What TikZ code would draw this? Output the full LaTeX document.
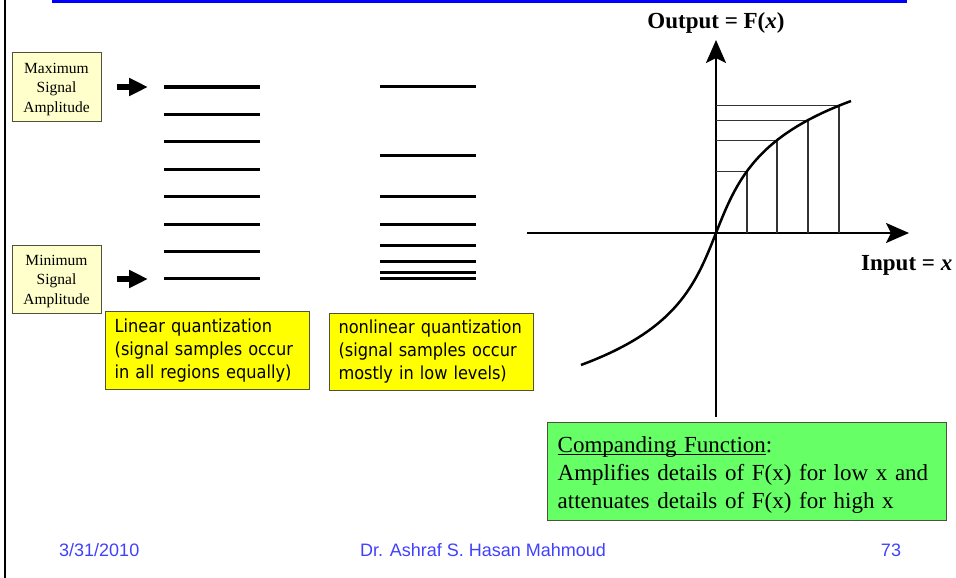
\documentclass[tikz,border=0pt]{standalone}
\usepackage{fontspec}
\setmainfont{Liberation Serif}
\newfontfamily\tah[FakeStretch=0.9]{DejaVu Sans}
\newfontfamily\arial{Liberation Sans}
\usetikzlibrary{arrows.meta}
\definecolor{lightyel}{RGB}{255,255,204}
\definecolor{yel}{RGB}{255,255,0}
\definecolor{grn}{RGB}{102,255,102}
\definecolor{footblue}{RGB}{64,64,255}
\definecolor{boxline}{RGB}{80,80,60}
\newcommand\myul[1]{\setbox0\hbox{#1}\rlap{\rule[-2.4pt]{\wd0}{1.3pt}}\box0}
\begin{document}
\begin{tikzpicture}[x=1pt,y=-1pt,
  ampbox/.style={draw=boxline,line width=1pt,fill=lightyel,minimum width=89pt,minimum height=68pt,inner sep=0pt},
  amptext/.style={inner sep=0pt,align=center,font=\fontsize{15.5}{19.5}\selectfont},
  bigarrow/.style={line width=6pt,-{Triangle[length=19pt,width=17pt]}},
  level/.style={line width=3.5pt},
  quantbox/.style={draw=boxline,line width=1pt,fill=yel,text width=186pt,inner xsep=9pt,minimum height=77.5pt,align=left,font=\tah\fontsize{18}{23}\selectfont},
  axis/.style={line width=2.5pt,-{Stealth[length=23pt,width=20pt,inset=5pt]}},
  curve/.style={line width=2.5pt},
  gridl/.style={line width=1.2pt,black!80},
  foot/.style={font=\arial\fontsize{18}{20}\selectfont,text=footblue,inner sep=0pt}]
\useasboundingbox (0,0) rectangle (956,578);
\fill[blue] (52,0) rectangle (907,3);
\draw[line width=2pt] (5,0) -- (5,578);
% amplitude boxes
\node[ampbox] (maxbox) at (56.5,87) {};
\node[amptext] (maxtext) at ([yshift=-2.5pt]maxbox.center) {Maximum\\Signal\\Amplitude};
\node[ampbox] (minbox) at (56.5,279) {};
\node[amptext] (mintext) at ([yshift=-2.5pt]minbox.center) {Minimum\\Signal\\Amplitude};
\coordinate (maxtip) at (148,87);
\coordinate (mintip) at (148,279);
\draw[bigarrow] ([xshift=15pt]maxbox.east) -- (maxtip);
\draw[bigarrow] ([xshift=15pt]minbox.east) -- (mintip);
% linear levels
\foreach \yy in {87,114.7,141.7,169.7,196.7,224.7,251.7,278.7}
  \draw[level] (164,\yy) -- (260,\yy);
% nonlinear levels
\foreach \yy in {86.7,155.7,196.7,224.7,245.7,261.7,272.7,278.7}
  \draw[level] (380,\yy) -- (476,\yy);
% quantization boxes
\node[quantbox] (linbox) at (207.7,350.5) {Linear quantization\\(signal samples occur\\in all regions equally)};
\node[quantbox] (nlbox) at (431.5,352) {nonlinear quantization\\(signal samples occur\\mostly in low levels)};
% axes
\coordinate (O) at (716,233);
\coordinate (xl) at (527,233);
\coordinate (xr) at (909,233);
\coordinate (yb) at (716,417);
\coordinate (yt) at (716,40);
\draw[axis] (xl) -- (xr);
\draw[axis] (yb) -- (yt);
\node[font=\bfseries\fontsize{23}{26}\selectfont,inner sep=0pt] (outlbl) at (716,23) {Output = F(\textit{x})};
\node[font=\bfseries\fontsize{23}{26}\selectfont,inner sep=0pt,anchor=west] (inlbl) at (861,265) {Input = \textit{x}};
% grid
\foreach \t in {31,61,92,123} {
  \pgfmathsetmacro\fy{233-50.6*ln(\t/20+sqrt((\t/20)^2+1))}
  \draw[gridl] (716,\fy) -- ({716+\t},\fy) -- ({716+\t},233);
}
% curve
\draw[curve] plot[domain=135:0,samples=70] ({716-\x},{233+50.6*ln(\x/20+sqrt((\x/20)^2+1))})
  -- plot[domain=0:135,samples=70] ({716+\x},{233-50.6*ln(\x/20+sqrt((\x/20)^2+1))});
% companding box
\node[draw=boxline,line width=1pt,fill=grn,minimum width=399pt,minimum height=97.3pt,inner sep=0pt] (cbox) at (747.2,471.4) {};
\node[text width=379pt,inner sep=0pt,align=left,font=\fontsize{23}{28}\selectfont] (ctext) at ([yshift=-4pt]cbox.center)
  {\myul{Companding Function}:\\Amplifies details of F(x) for low x and\\attenuates details of F(x) for high x};
% footer
\node[foot,anchor=west] (date) at (59,550) {3/31/2010};
\node[foot] (author) at (483,550) {Dr. Ashraf S. Hasan Mahmoud};
\node[foot] (page) at (891,550) {73};
\end{tikzpicture}
\end{document}
